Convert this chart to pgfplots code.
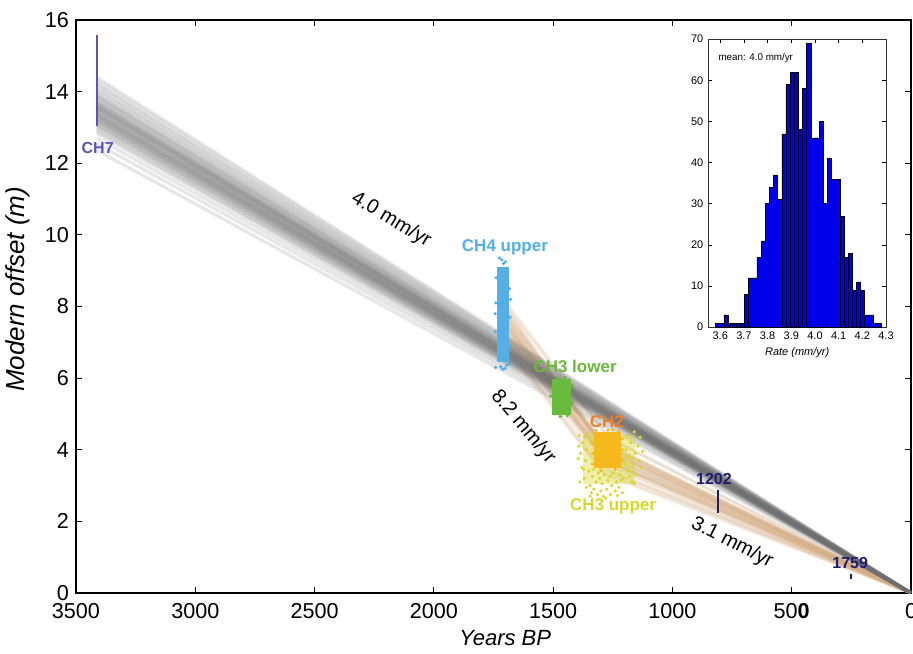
\documentclass[border=0pt]{standalone}
\usepackage{pgfplots}
\pgfplotsset{compat=1.18}
\usepackage{fontspec}
\setmainfont{Liberation Sans}
\definecolor{fangray}{RGB}{110,110,110}
\definecolor{fantan}{RGB}{212,172,132}
\definecolor{chsev}{RGB}{95,85,175}
\definecolor{navyd}{RGB}{30,30,110}
\definecolor{chfour}{RGB}{85,175,230}
\definecolor{chthreel}{RGB}{105,185,60}
\definecolor{chtwo}{RGB}{240,125,40}
\definecolor{chtwocore}{RGB}{245,185,30}
\definecolor{chthreeu}{RGB}{215,215,45}
\begin{document}
\begin{tikzpicture}
\begin{axis}[
  at={(38pt,30pt)}, anchor=south west,
  scale only axis, width=417.5pt, height=286.5pt,
  xmin=0, xmax=3500, ymin=0, ymax=16, x dir=reverse,
  xtick={0,500,1000,1500,2000,2500,3000,3500},
  xticklabels={0,50\textbf{0},1000,1500,2000,2500,3000,3500},
  ytick={0,2,4,6,8,10,12,14,16},
  tick align=inside, major tick length=3pt,
  xtick pos=both, ytick pos=both,
  axis line style={line width=0.9pt},
  every tick/.style={black, line width=0.6pt},
  tick label style={font=\fontsize{10.8}{12}\selectfont},
  xticklabel style={yshift=-1.5pt},
  /pgf/number format/assume math mode=true,
  xlabel={\textit{Years BP}},
  ylabel={\textit{Modern offset (m)}},
  every axis x label/.style={at={(axis description cs:0.514,-0.0785)}, anchor=center, font=\fontsize{11}{13}\selectfont},
  every axis y label/.style={at={(axis description cs:-0.07,0.53)}, rotate=90, anchor=center, font=\fontsize{13}{15}\selectfont},
  clip=true,
]
% orange fan (piecewise: 3.1 mm/yr then 8.2 mm/yr)
\pgfplotsset{tanline/.style={color=fantan, line width=1.5pt, opacity=0.22, forget plot}}
\addplot[tanline] coordinates {(0,0) (1250,3.75) (1720,7.9)};
\addplot[tanline] coordinates {(0,0) (1260,3.90) (1720,7.6)};
\addplot[tanline] coordinates {(0,0) (1270,4.05) (1720,7.7)};
\addplot[tanline] coordinates {(0,0) (1280,3.97) (1720,7.58)};
\addplot[tanline] coordinates {(0,0) (1290,4.10) (1720,7.9)};
\addplot[tanline] coordinates {(0,0) (1300,4.20) (1720,8.1)};
\addplot[tanline] coordinates {(0,0) (1240,3.60) (1720,7.4)};
\addplot[tanline] coordinates {(0,0) (1310,4.00) (1720,7.5)};
\addplot[tanline] coordinates {(0,0) (1320,4.30) (1720,8.2)};
\addplot[tanline] coordinates {(0,0) (1230,3.55) (1720,7.2)};
\addplot[tanline] coordinates {(0,0) (1270,3.80) (1720,7.8)};
\addplot[tanline] coordinates {(0,0) (1285,4.15) (1720,7.4)};
\addplot[tanline] coordinates {(0,0) (1295,3.85) (1720,7.7)};
\addplot[tanline] coordinates {(0,0) (1265,4.00) (1720,8.0)};
\addplot[tanline] coordinates {(0,0) (1275,3.70) (1720,7.3)};
\addplot[tanline] coordinates {(0,0) (1305,4.25) (1720,7.9)};
\addplot[tanline] coordinates {(0,0) (1255,3.95) (1720,7.65)};
\addplot[tanline] coordinates {(0,0) (1245,3.85) (1720,7.55)};
\addplot[tanline] coordinates {(0,0) (1280,3.45) (1720,7.1)};
\addplot[tanline] coordinates {(0,0) (1260,4.30) (1720,8.3)};
\addplot[tanline] coordinates {(0,0) (1275,3.60) (1720,7.45)};
\addplot[tanline] coordinates {(0,0) (1290,3.75) (1720,7.85)};
\addplot[tanline] coordinates {(0,0) (1265,3.65) (1720,7.75)};
\addplot[tanline] coordinates {(0,0) (1300,3.90) (1720,7.6)};
\addplot[tanline] coordinates {(0,0) (1250,3.50) (1720,7.35)};
\addplot[tanline] coordinates {(0,0) (1285,4.00) (1720,8.05)};
\addplot[tanline] coordinates {(0,0) (1280,3.30) (1720,7.0)};
\addplot[tanline] coordinates {(0,0) (1270,4.35) (1720,8.2)};
\addplot[tanline] coordinates {(0,0) (1295,3.40) (1720,7.2)};
\addplot[tanline] coordinates {(0,0) (1260,3.40) (1720,7.3)};
% gray fan (straight lines to CH7)
\pgfplotsinvokeforeach{12.36,12.55,12.70,12.83,12.90,12.94,13.00,13.04,13.07,13.10,13.14,13.17,13.19,13.21,13.24,13.26,13.28,13.31,13.33,13.34,13.36,13.38,13.41,13.43,13.45,13.48,13.50,13.52,13.55,13.57,13.58,13.60,13.62,13.65,13.67,13.69,13.72,13.75,13.79,13.83,13.86,13.90,13.93,13.99,14.05,14.10,14.18,14.23,14.32,14.40}{
  \addplot[color=fangray, line width=1.6pt, opacity=0.17, forget plot] coordinates {(0,0) (3413,#1)};
}
% CH7
\addplot[chsev, line width=1.2pt] coordinates {(3413,13.03) (3413,15.59)};
% 1202 and 1759
\addplot[navyd, line width=1.1pt] coordinates {(809,2.24) (809,2.88)};
\addplot[navyd, line width=1.1pt] coordinates {(251,0.39) (251,0.53)};
% CH4 upper
\addplot[fill=chfour, draw=none] coordinates {(1736,6.45) (1687,6.45) (1687,9.1) (1736,9.1)} -- cycle;
\addplot[only marks, mark=*, mark size=0.6pt, chfour] coordinates {
(1741,6.3) (1712,6.25) (1695,6.35) (1684,6.4) (1682,6.9) (1742,7.3)
(1680,7.7) (1740,8.1) (1683,8.5) (1739,8.8) (1700,9.25) (1715,9.3)
(1725,9.35) (1708,9.2) (1720,6.32) (1702,6.27) (1679,8.2) (1743,7.8)};
% CH3 lower
\addplot[fill=chthreel, draw=none] coordinates {(1505,4.98) (1425,4.98) (1425,5.98) (1505,5.98)} -- cycle;
\addplot[only marks, mark=*, mark size=0.6pt, chthreel] coordinates {
(1480,6.03) (1450,6.02) (1510,5.5) (1420,5.3) (1470,4.93) (1440,4.95) (1421,5.8)};
% CH3 upper
\addplot[fill=chthreeu, draw=none, opacity=0.4] coordinates {(1375,3.05) (1155,3.05) (1155,4.4) (1375,4.4)} -- cycle;
\addplot[only marks, mark=*, mark size=0.6pt, chthreeu] coordinates {
(1390,4.4) (1385,3.9) (1380,3.5) (1375,4.2) (1370,3.2) (1365,3.7) (1360,2.95) (1355,4.45)
(1350,3.4) (1345,3.0) (1340,2.8) (1335,3.25) (1330,2.9) (1320,3.1) (1315,2.75) (1310,3.35)
(1300,2.85) (1295,3.05) (1290,2.7) (1285,3.3) (1275,2.9) (1270,3.15) (1260,2.75) (1255,3.0)
(1250,3.35) (1240,2.85) (1235,3.1) (1225,2.95) (1220,3.3) (1210,2.8) (1205,3.2) (1200,3.6)
(1195,4.0) (1190,4.4) (1185,3.4) (1180,3.8) (1175,4.2) (1170,3.1) (1165,3.6) (1160,4.5)
(1155,3.9) (1150,3.3) (1145,4.1) (1140,3.7) (1135,4.35) (1130,3.5) (1125,3.95) (1360,4.0)
(1372,3.45) (1388,3.1) (1395,3.75) (1345,2.7) (1280,2.65) (1230,2.72) (1330,3.45) (1305,3.2)
(1262,3.25) (1215,3.15) (1180,3.25) (1160,3.05) (1392,4.1) (1368,4.35)};
% CH2
\addplot[fill=chtwocore, draw=none] coordinates {(1330,3.5) (1215,3.5) (1215,4.5) (1330,4.5)} -- cycle;
\addplot[only marks, mark=*, mark size=0.6pt, chtwocore] coordinates {
(1335,3.6) (1338,4.2) (1212,3.7) (1210,4.3) (1270,4.55) (1240,3.45) (1300,3.42) (1250,4.56)
(1320,4.53) (1225,4.52) (1334,3.9) (1211,4.0)};
% labels
\node[font=\bfseries\fontsize{8}{9}\selectfont, text=chsev] at (axis cs:3409,12.42) {CH7};
\node[font=\bfseries\fontsize{8.5}{10}\selectfont, text=chfour] at (axis cs:1702,9.66) {CH4 upper};
\node[font=\bfseries\fontsize{8.5}{10}\selectfont, text=chthreel] at (axis cs:1408,6.32) {CH3 lower};
\node[font=\bfseries\fontsize{8.5}{10}\selectfont, text=chtwo] at (axis cs:1275,4.78) {CH2};
\node[font=\bfseries\fontsize{8.5}{10}\selectfont, text=chthreeu] at (axis cs:1249,2.41) {CH3 upper};
\node[font=\bfseries\fontsize{8}{9}\selectfont, text=navyd] at (axis cs:826,3.18) {1202};
\node[font=\bfseries\fontsize{8}{9}\selectfont, text=navyd] at (axis cs:255,0.83) {1759};
\node[font=\fontsize{10}{12}\selectfont, rotate=-31] at (axis cs:2179,10.42) {4.0 mm/yr};
\node[font=\fontsize{10}{12}\selectfont, rotate=-50] at (axis cs:1626,4.64) {8.2 mm/yr};
\node[font=\fontsize{10}{12}\selectfont, rotate=-27] at (axis cs:750,1.40) {3.1 mm/yr};
\end{axis}
% inset histogram
\begin{axis}[
  at={(354.2pt,162.9pt)}, anchor=south west,
  scale only axis, width=88.8pt, height=144pt,
  xmin=3.55, xmax=4.30, ymin=0, ymax=70,
  xtick={3.6,3.7,3.8,3.9,4.0,4.1,4.2,4.3},
  xticklabels={3.6,3.7,3.8,3.9,4.0,4.1,4.2,4.3},
  ytick={0,10,20,30,40,50,60,70},
  tick align=inside, major tick length=2pt,
  xtick pos=both, ytick pos=both,
  axis background/.style={fill=white},
  axis line style={line width=0.5pt, black!80},
  every tick/.style={black, line width=0.4pt},
  tick label style={font=\fontsize{5.5}{6}\selectfont},
  /pgf/number format/assume math mode=true,
  xticklabel style={yshift=1pt},
  yticklabel style={xshift=1pt},
  xlabel={\textit{Rate (mm/yr)}},
  every axis x label/.style={at={(axis description cs:0.5,-0.045)}, anchor=north, font=\fontsize{5.5}{6}\selectfont},
]
\addplot[ybar interval, fill=blue!92!black, draw=black, line width=0.3pt] coordinates {
(3.58,1) (3.5975,1) (3.615,3) (3.6325,1) (3.65,1) (3.6675,1) (3.685,1) (3.7025,8)
(3.72,12) (3.7375,12) (3.755,17) (3.7725,21) (3.79,30) (3.8075,34) (3.825,37) (3.8425,31)
(3.86,47) (3.8775,59) (3.895,62) (3.9125,62) (3.93,48) (3.9475,58) (3.965,69) (3.9825,46)
(4.0,46) (4.0175,50) (4.035,30) (4.0525,41) (4.07,36) (4.0875,36) (4.105,27) (4.1225,17)
(4.14,18) (4.1575,9) (4.175,11) (4.1925,9) (4.21,3) (4.2275,3) (4.245,1) (4.2625,1) (4.28,1)};
\node[anchor=west, inner sep=0pt, font=\fontsize{4.9}{6}\selectfont] at (axis description cs:0.055,0.935) {mean: 4.0 mm/yr};
\end{axis}
\pgfresetboundingbox
\useasboundingbox (0,0) rectangle (456.5pt,326.5pt);
\end{tikzpicture}
\end{document}
